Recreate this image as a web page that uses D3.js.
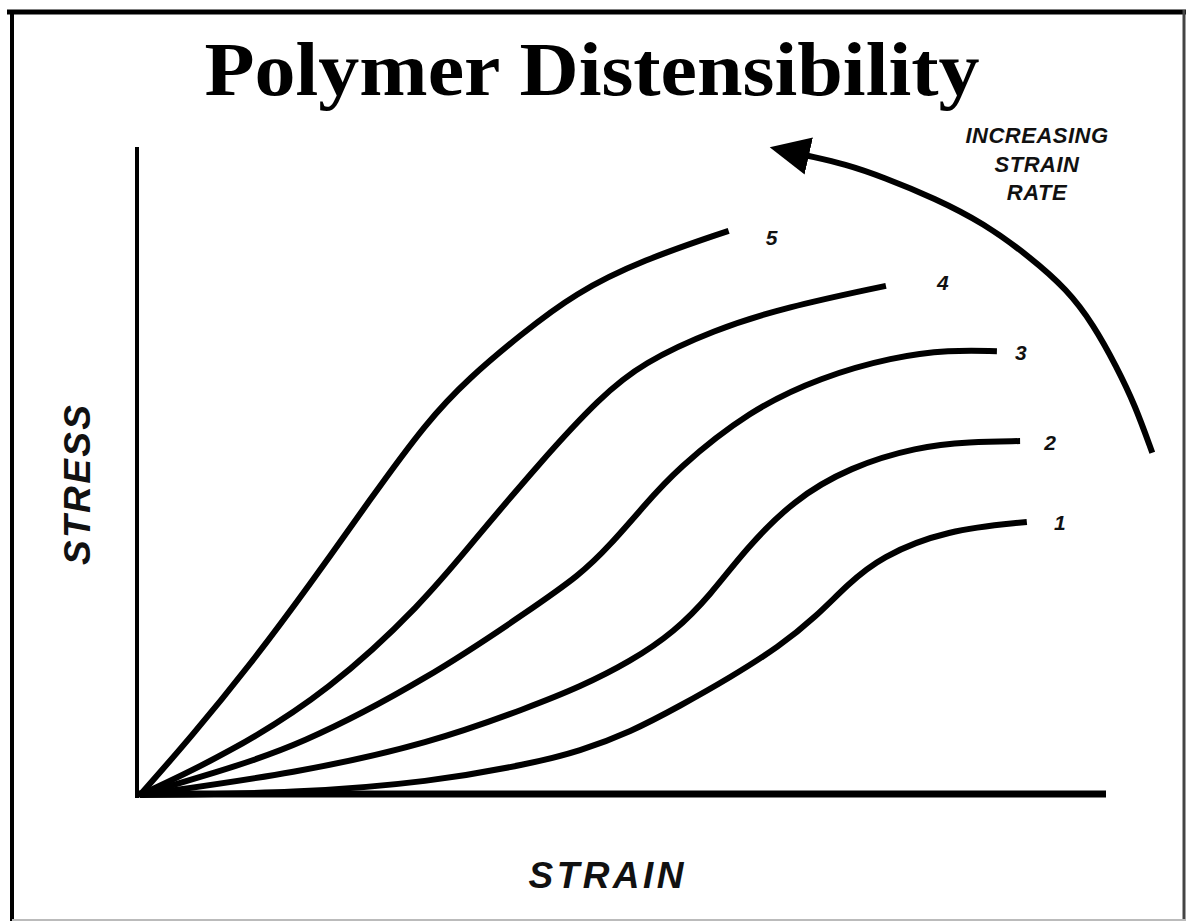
<!DOCTYPE html>
<html>
<head>
<meta charset="utf-8">
<script src="https://cdn.jsdelivr.net/npm/d3@7/dist/d3.min.js"></script>
<style>
  html, body { margin: 0; padding: 0; background: #fff; }
  svg { display: block; }
  .curve { fill: none; stroke: #000; stroke-width: 6; stroke-linecap: butt; }
  .lbl { font-family: "Liberation Sans", Arial, sans-serif; font-weight: bold; font-style: italic; fill: #111; }
  .title { font-family: "Liberation Serif", "DejaVu Serif", serif; font-weight: bold; fill: #000; }
</style>
</head>
<body>
<svg width="1186" height="921"></svg>
<script>
// strain / stress readings (0-100 both ways), one array per strain rate
var rate1 = [[0,0],[16.3,0.3],[30.1,2.0],[40.4,4.8],[45.6,6.8],[50.8,9.7],[56.0,13.8],[61.1,18.1],[66.3,23.0],[70.0,27.5],[73.3,32.5],[76.7,36.8],[83.6,41.0],[91.9,42.2]];
var rate2 = [[0,0],[16.3,3.4],[30.1,8.0],[40.4,13.6],[45.6,16.7],[50.8,20.6],[55.4,25.2],[59.1,30.9],[62.7,37.9],[67.7,45.6],[73.6,50.7],[80.5,53.8],[86.0,54.6],[91.2,54.7]];
var rate3 = [[0,0],[7.6,3.4],[16.3,7.4],[30.1,18.2],[40.4,28.6],[45.6,34.0],[48.7,38.6],[52.3,44.8],[55.5,50.2],[63.2,59.5],[70.6,64.6],[78.0,67.7],[83.9,68.8],[88.8,68.6]];
var rate4 = [[0,0],[9.3,6.5],[19.7,16.2],[29.3,29.7],[34.2,38.6],[41.5,51.5],[47.7,61.5],[52.1,66.8],[59.5,71.9],[66.9,75.4],[77.3,78.7]];
var rate5 = [[0,0],[5.2,8.8],[11.4,20.1],[17.6,32.5],[23.8,45.6],[29.7,57.7],[34.2,64.6],[39.4,71.1],[45.1,77.6],[52.1,82.7],[61.0,87.2]];

var rateNames = ["1", "2", "3", "4", "5"];
var rateSeries = [rate1, rate2, rate3, rate4, rate5];

// "increasing strain rate" arrow path, same units
var rateArrow = [[104.9,52.9],[103.1,60.3],[101.2,66.2],[98.8,72.7],[96.1,78.1],[92.2,83.2],[87.4,88.4],[82.4,92.2],[77.0,95.5],[73.1,97.5],[69.2,98.8]];
var arrowText = ["INCREASING", "STRAIN", "RATE"];

var svg = d3.select("svg");

// label nudges (px) from curve ends
var labelDx = [33, 30, 24, 57, 43],
    labelDy = [0, 1, 1, -4, 6];

var x = d3.scaleLinear().domain([0, 100]).range([140, 1105]),
    y = d3.scaleLinear().domain([0, 100]).range([795, 148]);

// frame
svg.append("line").attr("x1", 7).attr("x2", 1186).attr("y1", 12).attr("y2", 12)
  .attr("stroke", "#000").attr("stroke-width", 5);
svg.append("line").attr("x1", 12).attr("x2", 12).attr("y1", 10).attr("y2", 921)
  .attr("stroke", "#000").attr("stroke-width", 4);
svg.append("line").attr("x1", 1184).attr("x2", 1184).attr("y1", 10).attr("y2", 921)
  .attr("stroke", "#444").attr("stroke-width", 3);
svg.append("line").attr("x1", 12).attr("x2", 1186).attr("y1", 920).attr("y2", 920)
  .attr("stroke", "#bbb").attr("stroke-width", 2);

// title
svg.append("text").attr("class", "title")
  .attr("x", 592).attr("y", 95)
  .attr("text-anchor", "middle")
  .attr("font-size", 76)
  .attr("textLength", 775).attr("lengthAdjust", "spacingAndGlyphs")
  .text("Polymer Distensibility");

// axes (plain lines, no ticks)
var yAxis = d3.axisLeft(y).tickValues([]).tickSizeOuter(0);
var xAxis = d3.axisBottom(x).tickValues([]).tickSizeOuter(0);

svg.append("g").attr("transform", "translate(-3,0)").call(yAxis)
  .select(".domain").attr("stroke", "#000").attr("stroke-width", 4)
  .attr("d", "M" + (x(0)) + "," + (y(0) + 3) + "V" + y(0) + "V147");
svg.append("g").attr("transform", "translate(0,-1)").call(xAxis)
  .select(".domain").attr("stroke", "#000").attr("stroke-width", 7)
  .attr("d", "M" + (x(0) - 4) + "," + y(0) + "H1106");

// curves
var line = d3.line()
  .x(d => x(d[0]))
  .y(d => y(d[1]))
  .curve(d3.curveBasis);

svg.selectAll("path.curve")
  .data(rateSeries)
  .enter()
  .append("path")
  .attr("class", "curve")
  .attr("d", line);

svg.selectAll("text.rate")
  .data(rateSeries)
  .enter()
  .append("text")
  .attr("class", "lbl rate")
  .attr("font-size", 21)
  .attr("text-anchor", "middle")
  .attr("x", (d, i) => x(d[d.length - 1][0]) + labelDx[i])
  .attr("y", (d, i) => y(d[d.length - 1][1]) + labelDy[i] + 8)
  .text((d, i) => rateNames[i]);

// arrow
svg.append("defs").append("marker")
  .attr("id", "head")
  .attr("markerUnits", "userSpaceOnUse")
  .attr("markerWidth", 44).attr("markerHeight", 44)
  .attr("viewBox", "0 -22 44 44")
  .attr("refX", 1).attr("refY", 0)
  .attr("orient", "auto")
  .append("path")
  .attr("d", "M0,-19L40,0L0,19Z")
  .attr("fill", "#000");

svg.append("path")
  .datum(rateArrow)
  .attr("class", "curve")
  .attr("stroke-width", 6)
  .attr("marker-end", "url(#head)")
  .attr("d", line);

svg.selectAll("text.arrowtxt")
  .data(arrowText)
  .enter()
  .append("text")
  .attr("class", "lbl arrowtxt")
  .attr("font-size", 22)
  .attr("text-anchor", "middle")
  .attr("letter-spacing", 0.5)
  .attr("x", 1037)
  .attr("y", (d, i) => 143 + i * 28.5)
  .text(d => d);

// axis titles
svg.append("text").attr("class", "lbl")
  .attr("font-size", 37)
  .attr("text-anchor", "middle")
  .attr("x", 606).attr("y", 888)
  .attr("textLength", 155)
  .text("STRAIN");

svg.append("text").attr("class", "lbl")
  .attr("font-size", 37)
  .attr("text-anchor", "middle")
  .attr("transform", "translate(90,485) rotate(-90)")
  .attr("textLength", 160)
  .text("STRESS");
</script>
</body>
</html>
